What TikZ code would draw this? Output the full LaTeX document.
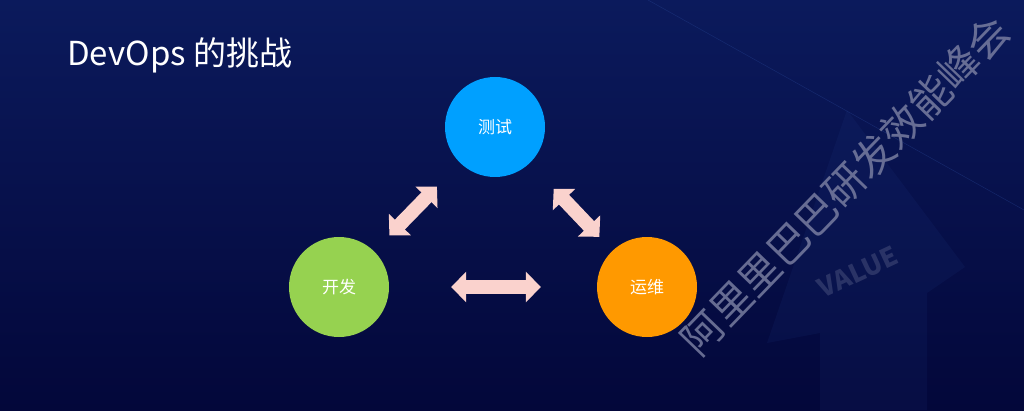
\documentclass[tikz,border=0pt]{standalone}
\usepackage{fontspec}
\setmainfont{Noto Sans CJK SC}
\usepackage{tikz}
\usetikzlibrary{arrows.meta}

\begin{document}
\begin{tikzpicture}[
    x=1pt,
    y=1pt,
    line cap=round,
    line join=round
]

% =========================================================
% Colors
% =========================================================
\definecolor{navytop}{RGB}{11,26,92}
\definecolor{navybot}{RGB}{3,7,58}
\definecolor{testblue}{RGB}{0,160,255}
\definecolor{devgreen}{RGB}{150,210,80}
\definecolor{opsorange}{RGB}{255,153,0}
\definecolor{blush}{RGB}{250,210,205}
\definecolor{markgray}{RGB}{120,125,160}
\definecolor{houseblue}{RGB}{40,70,150}

% =========================================================
% Styles
% =========================================================
\tikzset{
    stage/.style={circle,minimum size=100pt,inner sep=0pt,text=white,
        font=\fontsize{17}{19}\selectfont},
    duplex/.style={draw=blush,line width=14pt,line cap=butt,
        {Triangle[width=30pt,length=15pt]}-{Triangle[width=30pt,length=15pt]}},
    titletext/.style={text=white,font=\fontsize{33}{38}\selectfont}
}

\useasboundingbox (0,0) rectangle (1024,410);

% =========================================================
% Background
% =========================================================
\shade[top color=navytop,bottom color=navybot] (0,0) rectangle (1024,410);
\fill[houseblue,opacity=0.11]
    (847,300) -- (965,143) -- (927,117) -- (927,0) -- (820,0)
    -- (820,77) -- (767,67) -- cycle;
\draw[houseblue,opacity=0.4,line width=0.5pt] (648,410) -- (1024,200);
\node[markgray,opacity=0.3,rotate=25,inner sep=0pt,
    font=\bfseries\itshape\fontsize{26}{26}\selectfont]
    (value) at (858,138) {VALUE};

% =========================================================
% Title
% =========================================================
\node[titletext,anchor=base west,inner sep=0pt] (title) at (67,344) {DevOps 的挑战};

% =========================================================
% Stages
% =========================================================
\node[stage,fill=testblue]  (test) at (495,283) {测试};
\node[stage,fill=devgreen]  (dev)  at (339,123) {开发};
\node[stage,fill=opsorange] (ops)  at (647,123) {运维};

% two-way arrows
\draw[duplex,shorten <=22pt,shorten >=33pt] (dev) -- (test);
\draw[duplex,shorten <=35pt,shorten >=19pt] (test) -- (ops);
\draw[duplex,shorten <=62pt,shorten >=56pt] (dev) -- (ops);

% =========================================================
% Watermark
% =========================================================
\node[markgray,opacity=0.85,rotate=46,inner sep=0pt,font=\fontsize{41}{41}\selectfont]
    (mark) at (845,225) {阿里里巴巴研发效能峰会};

\end{tikzpicture}
\end{document}
